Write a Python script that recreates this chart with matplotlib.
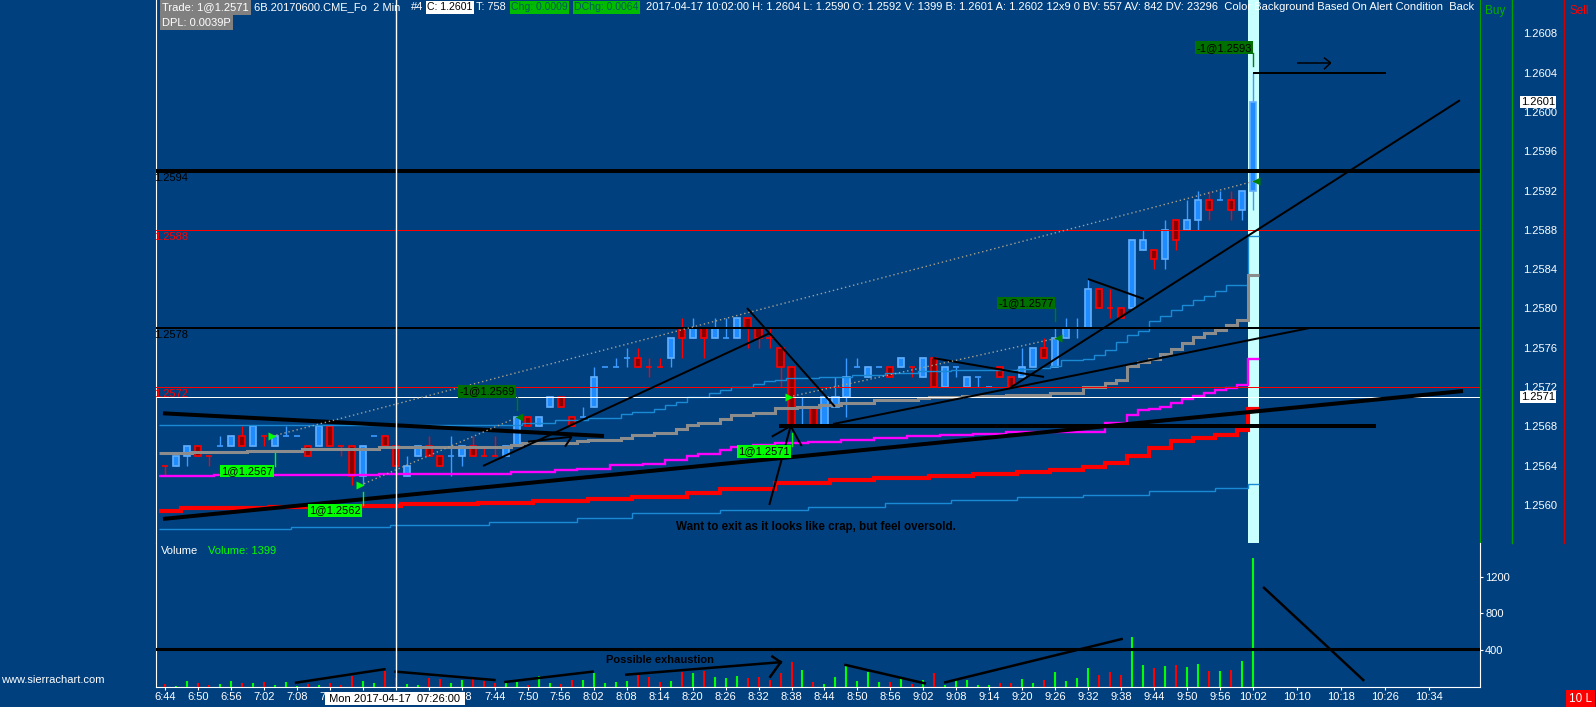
import matplotlib
matplotlib.use("Agg")
import matplotlib.pyplot as plt
from matplotlib.lines import Line2D
from matplotlib.patches import Rectangle

plt.rcParams['font.family'] = ['Liberation Sans', 'DejaVu Sans']
plt.rcParams['font.size'] = 8

W, H, DPI = 1596, 707, 100
NAVY = "#00407f"

# 2 min bars, minutes after midnight, 06:44 .. 10:02
bar_times = list(range(404, 603, 2))

opens = [1.2564, 1.2564, 1.2565, 1.2566, 1.2565, 1.2566, 1.2566, 1.2567, 1.2566, 1.2567,
         1.2566, 1.2567, 1.2567, 1.2566, 1.2566, 1.2568, 1.2566, 1.2566, 1.2563, 1.2567,
         1.2567, 1.2566, 1.2563, 1.2565, 1.2566, 1.2565, 1.2565, 1.2565, 1.2566, 1.2565,
         1.2565, 1.2565, 1.2566, 1.2569, 1.2568, 1.2570, 1.2571, 1.2569, 1.2569, 1.2570,
         1.2574, 1.2574, 1.2575, 1.2575, 1.2574, 1.2574, 1.2575, 1.2578, 1.2577, 1.2578,
         1.2577, 1.2577, 1.2577, 1.2579, 1.2578, 1.2577, 1.2576, 1.2574, 1.2570, 1.2570,
         1.2568, 1.2570, 1.2571, 1.2574, 1.2573, 1.2574, 1.2574, 1.2574, 1.2574, 1.2573,
         1.2575, 1.2572, 1.2574, 1.2572, 1.2573, 1.2572, 1.2574, 1.2573, 1.2573, 1.2574,
         1.2576, 1.2574, 1.2577, 1.2578, 1.2578, 1.2582, 1.2580, 1.2580, 1.2580, 1.2586,
         1.2586, 1.2585, 1.2589, 1.2588, 1.2589, 1.2591, 1.2591, 1.2591, 1.2590, 1.2592]
highs = [1.2564, 1.2565, 1.2566, 1.2566, 1.2565, 1.2567, 1.2567, 1.2568, 1.2568, 1.2567,
         1.2567, 1.2568, 1.2567, 1.2566, 1.2568, 1.2568, 1.2566, 1.2566, 1.2566, 1.2567,
         1.2567, 1.2566, 1.2565, 1.2566, 1.2567, 1.2565, 1.2567, 1.2566, 1.2567, 1.2566,
         1.2567, 1.2566, 1.2569, 1.2569, 1.2569, 1.2571, 1.2571, 1.2569, 1.2570, 1.2574,
         1.2574, 1.2575, 1.2576, 1.2576, 1.2575, 1.2575, 1.2577, 1.2579, 1.2579, 1.2578,
         1.2579, 1.2579, 1.2579, 1.2579, 1.2578, 1.2578, 1.2576, 1.2574, 1.2571, 1.2570,
         1.2571, 1.2573, 1.2575, 1.2575, 1.2574, 1.2574, 1.2574, 1.2575, 1.2574, 1.2575,
         1.2575, 1.2574, 1.2574, 1.2573, 1.2573, 1.2572, 1.2574, 1.2573, 1.2576, 1.2576,
         1.2577, 1.2578, 1.2579, 1.2579, 1.2583, 1.2582, 1.2582, 1.2580, 1.2587, 1.2588,
         1.2586, 1.2589, 1.2589, 1.2591, 1.2592, 1.2592, 1.2592, 1.2592, 1.2592, 1.2604]
lows = [1.2563, 1.2564, 1.2564, 1.2565, 1.2564, 1.2566, 1.2566, 1.2566, 1.2566, 1.2566,
        1.2566, 1.2567, 1.2567, 1.2565, 1.2566, 1.2566, 1.2565, 1.2562, 1.2562, 1.2567,
        1.2566, 1.2564, 1.2563, 1.2565, 1.2565, 1.2564, 1.2563, 1.2564, 1.2565, 1.2565,
        1.2565, 1.2565, 1.2566, 1.2568, 1.2568, 1.2570, 1.2570, 1.2568, 1.2569, 1.2570,
        1.2574, 1.2574, 1.2574, 1.2574, 1.2573, 1.2574, 1.2574, 1.2575, 1.2577, 1.2575,
        1.2577, 1.2577, 1.2577, 1.2576, 1.2576, 1.2576, 1.2572, 1.2568, 1.2568, 1.2568,
        1.2568, 1.2570, 1.2569, 1.2574, 1.2573, 1.2574, 1.2573, 1.2574, 1.2573, 1.2573,
        1.2572, 1.2572, 1.2573, 1.2572, 1.2572, 1.2572, 1.2573, 1.2572, 1.2573, 1.2574,
        1.2575, 1.2574, 1.2577, 1.2577, 1.2578, 1.2580, 1.2579, 1.2579, 1.2580, 1.2586,
        1.2584, 1.2584, 1.2586, 1.2588, 1.2588, 1.2589, 1.2591, 1.2589, 1.2589, 1.2590]
closes = [1.2564, 1.2565, 1.2566, 1.2565, 1.2565, 1.2566, 1.2567, 1.2566, 1.2568, 1.2567,
          1.2567, 1.2567, 1.2567, 1.2565, 1.2568, 1.2566, 1.2566, 1.2563, 1.2566, 1.2567,
          1.2566, 1.2564, 1.2564, 1.2566, 1.2565, 1.2564, 1.2565, 1.2566, 1.2565, 1.2565,
          1.2565, 1.2566, 1.2569, 1.2568, 1.2569, 1.2571, 1.2570, 1.2568, 1.2569, 1.2573,
          1.2574, 1.2574, 1.2575, 1.2574, 1.2574, 1.2574, 1.2577, 1.2577, 1.2578, 1.2577,
          1.2578, 1.2577, 1.2579, 1.2578, 1.2577, 1.2577, 1.2574, 1.2568, 1.2570, 1.2568,
          1.2571, 1.2571, 1.2573, 1.2574, 1.2574, 1.2574, 1.2573, 1.2575, 1.2574, 1.2575,
          1.2572, 1.2574, 1.2574, 1.2573, 1.2573, 1.2572, 1.2573, 1.2572, 1.2574, 1.2576,
          1.2575, 1.2577, 1.2578, 1.2578, 1.2582, 1.2580, 1.2580, 1.2579, 1.2587, 1.2587,
          1.2585, 1.2588, 1.2587, 1.2589, 1.2591, 1.2590, 1.2591, 1.2590, 1.2592, 1.2601]
# u = up bar (blue candle, green volume), d = down bar (red)
bar_dir = ("duudduudud" "uuududdduu" "dduudduudd" "duuduudduu" "uuudddudud"
           "uuudddddud" "uuuuuududu" "duuuuudduu" "duuuuddduu" "duduududuu")

volumes = [33, 14, 65, 40, 22, 33, 65, 40, 40, 54,
           25, 54, 14, 36, 22, 43, 22, 119, 65, 43,
           174, 98, 33, 25, 98, 87, 43, 80, 83, 65,
           43, 54, 58, 22, 123, 47, 33, 80, 80, 156,
           47, 58, 69, 127, 112, 58, 69, 163, 152, 174,
           112, 101, 123, 101, 112, 80, 152, 275, 185, 58,
           33, 112, 228, 65, 167, 54, 54, 87, 36, 76,
           148, 22, 87, 76, 22, 22, 40, 40, 87, 43,
           76, 163, 65, 98, 206, 130, 163, 130, 543, 239,
           210, 228, 239, 221, 250, 174, 174, 185, 282, 1399]

gray_ma = [1.25653, 1.25653, 1.25653, 1.25654, 1.25654, 1.25654, 1.25654, 1.25654, 1.25655, 1.25655,
           1.25655, 1.25655, 1.25655, 1.25657, 1.25657, 1.25657, 1.25657, 1.25657, 1.25657, 1.25657,
           1.25659, 1.25659, 1.25659, 1.25659, 1.25659, 1.25659, 1.25659, 1.25659, 1.25659, 1.25659,
           1.25659, 1.25659, 1.25661, 1.25663, 1.25663, 1.25663, 1.25663, 1.25663, 1.25665, 1.25666,
           1.25666, 1.25666, 1.25668, 1.25671, 1.25671, 1.25673, 1.25673, 1.25677, 1.25681, 1.25683,
           1.25683, 1.25688, 1.25692, 1.25692, 1.25694, 1.25694, 1.25699, 1.25699, 1.25700, 1.25700,
           1.25702, 1.25702, 1.25704, 1.25704, 1.25704, 1.25707, 1.25707, 1.25707, 1.25707, 1.25709,
           1.25710, 1.25710, 1.25710, 1.25711, 1.25711, 1.25711, 1.25711, 1.25712, 1.25712, 1.25712,
           1.25712, 1.25714, 1.25714, 1.25714, 1.25720, 1.25720, 1.25724, 1.25727, 1.25741, 1.25746,
           1.25749, 1.25754, 1.25759, 1.25765, 1.25771, 1.25775, 1.25778, 1.25783, 1.25788, 1.25834]
blue_upper = [1.25681, 1.25681, 1.25681, 1.25681, 1.25681, 1.25681, 1.25681, 1.25681, 1.25681, 1.25681,
              1.25681, 1.25681, 1.25681, 1.25681, 1.25681, 1.25681, 1.25681, 1.25681, 1.25681, 1.25681,
              1.25681, 1.25681, 1.25681, 1.25681, 1.25681, 1.25681, 1.25681, 1.25681, 1.25681, 1.25681,
              1.25681, 1.25681, 1.25681, 1.25683, 1.25683, 1.25683, 1.25686, 1.25686, 1.25686, 1.25689,
              1.25689, 1.25689, 1.25693, 1.25695, 1.25695, 1.25698, 1.25702, 1.25705, 1.25710, 1.25710,
              1.25714, 1.25717, 1.25720, 1.25720, 1.25723, 1.25726, 1.25727, 1.25729, 1.25729, 1.25729,
              1.25730, 1.25730, 1.25730, 1.25732, 1.25732, 1.25732, 1.25734, 1.25734, 1.25734, 1.25736,
              1.25736, 1.25736, 1.25737, 1.25737, 1.25737, 1.25737, 1.25737, 1.25737, 1.25738, 1.25738,
              1.25739, 1.25741, 1.25748, 1.25748, 1.25749, 1.25753, 1.25758, 1.25766, 1.25773, 1.25777,
              1.25787, 1.25792, 1.25798, 1.25804, 1.25809, 1.25813, 1.25818, 1.25824, 1.25824, 1.25874]
magenta_ma = [1.25629, 1.25629, 1.25629, 1.25629, 1.25629, 1.25631, 1.25631, 1.25631, 1.25631, 1.25631,
              1.25631, 1.25631, 1.25631, 1.25631, 1.25631, 1.25631, 1.25631, 1.25631, 1.25631, 1.25631,
              1.25632, 1.25632, 1.25632, 1.25632, 1.25632, 1.25632, 1.25632, 1.25632, 1.25632, 1.25632,
              1.25632, 1.25632, 1.25634, 1.25634, 1.25634, 1.25634, 1.25636, 1.25636, 1.25637, 1.25637,
              1.25637, 1.25641, 1.25641, 1.25641, 1.25642, 1.25642, 1.25646, 1.25646, 1.25650, 1.25652,
              1.25652, 1.25656, 1.25659, 1.25659, 1.25661, 1.25661, 1.25663, 1.25663, 1.25663, 1.25664,
              1.25664, 1.25664, 1.25666, 1.25666, 1.25666, 1.25668, 1.25668, 1.25668, 1.25670, 1.25670,
              1.25670, 1.25671, 1.25671, 1.25671, 1.25672, 1.25672, 1.25672, 1.25674, 1.25674, 1.25674,
              1.25674, 1.25674, 1.25674, 1.25674, 1.25674, 1.25674, 1.25683, 1.25683, 1.25692, 1.25697,
              1.25698, 1.25700, 1.25704, 1.25708, 1.25711, 1.25714, 1.25717, 1.25719, 1.25722, 1.25749]
red_ma = [1.25594, 1.25594, 1.25597, 1.25597, 1.25597, 1.25597, 1.25597, 1.25597, 1.25597, 1.25597,
          1.25598, 1.25598, 1.25598, 1.25598, 1.25598, 1.25598, 1.25598, 1.25598, 1.25599, 1.25599,
          1.25599, 1.25599, 1.25601, 1.25601, 1.25601, 1.25601, 1.25601, 1.25601, 1.25601, 1.25602,
          1.25602, 1.25602, 1.25602, 1.25602, 1.25604, 1.25604, 1.25604, 1.25604, 1.25604, 1.25606,
          1.25606, 1.25606, 1.25606, 1.25608, 1.25608, 1.25608, 1.25608, 1.25608, 1.25612, 1.25612,
          1.25612, 1.25616, 1.25616, 1.25616, 1.25616, 1.25616, 1.25622, 1.25622, 1.25622, 1.25622,
          1.25622, 1.25625, 1.25625, 1.25625, 1.25625, 1.25627, 1.25627, 1.25627, 1.25627, 1.25627,
          1.25630, 1.25630, 1.25630, 1.25630, 1.25632, 1.25632, 1.25632, 1.25632, 1.25634, 1.25634,
          1.25634, 1.25636, 1.25636, 1.25636, 1.25639, 1.25639, 1.25643, 1.25643, 1.25650, 1.25650,
          1.25658, 1.25658, 1.25665, 1.25665, 1.25668, 1.25668, 1.25671, 1.25671, 1.25676, 1.25698]
blue_lower = [1.25576, 1.25576, 1.25576, 1.25576, 1.25576, 1.25576, 1.25576, 1.25576, 1.25576, 1.25576,
              1.25576, 1.25576, 1.25578, 1.25578, 1.25578, 1.25578, 1.25578, 1.25578, 1.25578, 1.25578,
              1.25578, 1.25580, 1.25580, 1.25580, 1.25580, 1.25580, 1.25580, 1.25580, 1.25580, 1.25580,
              1.25583, 1.25583, 1.25583, 1.25583, 1.25583, 1.25583, 1.25583, 1.25583, 1.25587, 1.25587,
              1.25587, 1.25587, 1.25587, 1.25592, 1.25592, 1.25592, 1.25592, 1.25592, 1.25592, 1.25592,
              1.25592, 1.25595, 1.25595, 1.25595, 1.25595, 1.25595, 1.25595, 1.25595, 1.25595, 1.25598,
              1.25598, 1.25598, 1.25598, 1.25598, 1.25598, 1.25598, 1.25602, 1.25602, 1.25602, 1.25602,
              1.25602, 1.25602, 1.25605, 1.25605, 1.25605, 1.25605, 1.25605, 1.25605, 1.25608, 1.25608,
              1.25608, 1.25608, 1.25608, 1.25608, 1.25610, 1.25610, 1.25610, 1.25610, 1.25610, 1.25610,
              1.25614, 1.25614, 1.25614, 1.25614, 1.25614, 1.25614, 1.25617, 1.25617, 1.25617, 1.25621]

# fills: (bar index, quantity, price)
trades = [(10, 1, 1.2567), (18, 1, 1.2562), (32, -1, 1.2569),
          (57, 1, 1.2571), (81, -1, 1.2577), (99, -1, 1.2593)]
trade_links = [(0, 5), (1, 2), (3, 4)]

# drawn horizontal lines: price, colour, width px, left label
hlines = [(1.2594, "black", 4, True), (1.2588, "#ff0000", 1, True),
          (1.2578, "black", 2, True), (1.2572, "#ff0000", 1, True),
          (1.2571, "white", 1, False)]

# freehand tool lines on price pane: t0, p0, t1, p1, width px
price_lines = [(403.67, 1.256933, 483.89, 1.256702, 4),
               (403.67, 1.255858, 640.15, 1.257160, 4),
               (461.88, 1.256397, 514.09, 1.257750, 2),
               (470.08, 1.256644, 478.00, 1.256695, 2),
               (476.80, 1.256593, 478.00, 1.256695, 2),
               (509.90, 1.258005, 525.90, 1.257000, 2),
               (513.96, 1.256000, 517.85, 1.256804, 2),
               (514.40, 1.256695, 517.85, 1.256804, 2),
               (519.85, 1.256600, 517.85, 1.256804, 2),
               (515.72, 1.256807, 624.32, 1.256807, 4),
               (525.55, 1.256824, 612.13, 1.257800, 2),
               (543.74, 1.257496, 563.93, 1.257303, 2),
               (557.74, 1.257191, 639.60, 1.260120, 2),
               (571.93, 1.258300, 582.12, 1.258097, 2),
               (601.95, 1.260400, 626.14, 1.260400, 2),
               (610.00, 1.260500, 616.08, 1.260500, 1.5),
               (614.86, 1.260553, 616.08, 1.260500, 1.5),
               (614.86, 1.260435, 616.08, 1.260500, 1.5)]
# freehand lines on volume pane: t0, v0, t1, v1
vol_lines = [(427.87, 47, 443.94, 193), (445.98, 167, 463.96, 76),
             (465.97, 55, 481.80, 167), (487.95, 134, 516.03, 270),
             (514.52, 331, 516.03, 270), (514.14, 112, 516.03, 270),
             (527.82, 240, 542.23, 40), (545.97, 51, 578.04, 521),
             (603.95, 1078, 622.00, 76)]
vol_level = 412

price_ticks = [1.2560, 1.2564, 1.2568, 1.2572, 1.2576, 1.2580, 1.2584,
               1.2588, 1.2592, 1.2596, 1.2600, 1.2604, 1.2608]
vol_ticks = [400, 800, 1200]
xtick_times = [404, 410, 416, 422, 428, 434, 440, 446, 452, 458, 464, 470,
               476, 482, 488, 494, 500, 506, 512, 518, 524, 530, 536, 542,
               548, 554, 560, 566, 572, 578, 584, 590, 596, 602,
               610, 618, 626, 634]
crosshair_time = 446

fig = plt.figure(figsize=(W / DPI, H / DPI), dpi=DPI, facecolor=NAVY)


def fx(px):
    return px / W


def fy(py):
    return 1 - py / H


PL, PR, PB, VB = 156, 1480, 543, 687
ax = fig.add_axes([fx(PL), fy(PB), (PR - PL) / W, PB / H], facecolor=NAVY)
axv = fig.add_axes([fx(PL), fy(VB), (PR - PL) / W, (VB - PB) / H],
                   facecolor=NAVY, sharex=ax)
YLO, YHI = 1.255613, 1.261140
ax.set_xlim(402.4, 643.24)
ax.set_ylim(YLO, YHI)
axv.set_ylim(0, 1565)
ppx = (YHI - YLO) / PB   # price per pixel

# alert highlight on last bar
ax.axvspan(bar_times[-1] - 1, bar_times[-1] + 1, color="#c8ffff", lw=0, zorder=1)

# candles
bw = 1.1
for t, o, h, l, c, d in zip(bar_times, opens, highs, lows, closes, bar_dir):
    wick = "#3d9bff" if d == "u" else "#ff0000"
    ax.vlines(t, l, h, colors=wick, lw=1, zorder=3)
    if o == c:
        ax.hlines(o, t - bw / 2, t + bw / 2, colors=wick, lw=1.2, zorder=3)
    else:
        fc = "#1e8cff" if d == "u" else "#8e0000"
        ec = "#62b0ff" if d == "u" else "#ff0000"
        ax.add_patch(Rectangle((t - bw / 2, min(o, c)), bw, abs(c - o),
                               fc=fc, ec=ec, lw=1.2, zorder=3))

# studies
edges = [t - 1 for t in bar_times] + [bar_times[-1] + 1]
ax.stairs(blue_lower, edges, baseline=None, color="#1a8ad4", lw=1, zorder=4)
ax.stairs(blue_upper, edges, baseline=None, color="#1a8ad4", lw=1, zorder=4)
ax.stairs(red_ma, edges, baseline=None, color="#ff0000", lw=3.0, zorder=4)
ax.stairs(magenta_ma, edges, baseline=None, color="#ff00ff", lw=1.7, zorder=4)
ax.stairs(gray_ma, edges, baseline=None, color="#8c8c8c", lw=2.2, zorder=4)

# drawn horizontal lines + their labels
for price, col, wpx, show in hlines:
    ax.axhline(price, color=col, lw=wpx * 0.72, zorder=5)
    if show:
        ax.annotate(f"{price:.4f}", xy=(0, price),
                    xycoords=("axes fraction", "data"), xytext=(-2, -2),
                    textcoords="offset pixels", ha="left", va="top",
                    color=col, fontsize=8, zorder=5)

for t0, p0, t1, p1, wpx in price_lines:
    ax.plot([t0, t1], [p0, p1], color="black", lw=wpx * 0.72, zorder=6,
            solid_capstyle="butt")

ax.axvline(crosshair_time, color="white", lw=1, zorder=6)

# trade links, markers and labels
for a, b in trade_links:
    ia, qa, pa = trades[a]
    ib, qb, pb = trades[b]
    ax.plot([bar_times[ia] - 0.45, bar_times[ib] + 0.45], [pa, pb],
            color="#a8a08c", lw=1, ls=(0, (1, 2)), zorder=6)
for i, qty, price in trades:
    t = bar_times[i]
    label = f"{qty}@{price:.4f}"
    if qty > 0:
        ax.plot(t - 0.45, price, marker=">", ms=6, color="#00ff00", mec="none", zorder=8)
        y0, y1 = lows[i] - 7 * ppx, lows[i] - 20 * ppx
        ax.plot([t, t], [y0, y1], color="#00ff00", lw=1, zorder=8)
        ax.text(t - 0.3, y1, label, ha="right", va="top", color="black", fontsize=8,
                bbox=dict(boxstyle="square,pad=0.12", fc="#00ff00", ec="none"), zorder=9)
    else:
        ax.plot(t + 0.45, price, marker="<", ms=6, color="#008000", mec="none", zorder=8)
        y0, y1 = highs[i] + 7 * ppx, highs[i] + 20 * ppx
        ax.plot([t, t], [y0, y1], color="#008000", lw=1, zorder=8)
        ax.text(t - 0.3, y1, label, ha="right", va="bottom", color="black", fontsize=8,
                bbox=dict(boxstyle="square,pad=0.12", fc="#007000", ec="none"), zorder=9)

ax.text(522.45, 1.255776, "Want to exit as it looks like crap, but feel oversold.",
        ha="center", va="center", color="black", fontsize=8.4, fontweight="bold", zorder=7)

# price axis
ax.yaxis.tick_right()
ax.set_yticks(price_ticks)
ax.set_yticklabels([f"{p:.4f}" for p in price_ticks])
ax.tick_params(axis="y", length=0, pad=31, colors="white", labelsize=8)
ax.tick_params(axis="x", bottom=False, labelbottom=False)
for s in ax.spines.values():
    s.set_visible(False)
ax.spines["left"].set_visible(True)
ax.spines["left"].set_color("white")
ax.spines["right"].set_visible(True)
ax.spines["right"].set_color("#00a000")

for price in (closes[-1], 1.2571):
    ax.annotate(f"{price:.4f}", xy=(1, price), xycoords=("axes fraction", "data"),
                xytext=(41, 0), textcoords="offset pixels", ha="left", va="center",
                color="black", fontsize=8, annotation_clip=False, zorder=10,
                bbox=dict(boxstyle="square,pad=0.1", fc="white", ec="none"))

# volume pane
vcol = ["#00ff00" if d == "u" else "#ff0000" for d in bar_dir]
axv.vlines(bar_times, 0, volumes, colors=vcol, lw=1.5, zorder=3)
axv.axhline(vol_level, color="black", lw=2.2, zorder=4)
for t0, v0, t1, v1 in vol_lines:
    axv.plot([t0, t1], [v0, v1], color="black", lw=1.8, zorder=5)
axv.text(494.08, 295, "Possible exhaustion", ha="center", va="center",
         color="black", fontsize=8, fontweight="bold", zorder=6)
axv.axvline(crosshair_time, color="white", lw=1, zorder=6)
axv.yaxis.tick_right()
axv.set_yticks(vol_ticks)
axv.tick_params(axis="y", length=2.2, pad=1.5, colors="white", labelsize=8)
# labels under the crosshair time box are hidden in the source chart
hidden = {440, 446, 452}
axv.set_xticks(xtick_times)
axv.set_xticklabels(["" if t in hidden else f"{t // 60}:{t % 60:02d}" for t in xtick_times])
axv.tick_params(axis="x", length=2.2, pad=1.5, colors="white", labelsize=8)
axv.spines["top"].set_visible(False)
for s in ("left", "bottom", "right"):
    axv.spines[s].set_color("white")

fig.text(fx(161), fy(551), "Volume", color="white", va="center", fontsize=8)
fig.text(fx(208), fy(551), f"Volume: {volumes[-1]}", color="#00ff00", va="center", fontsize=8)

# header
y1, y2 = fy(7.5), fy(22.5)
fig.text(fx(162), y1, "Trade: 1@1.2571", color="white", va="center",
         bbox=dict(boxstyle="square,pad=0.2", fc="#808080", ec="none"))
fig.text(fx(254), y1, "6B.20170600.CME_Fo  2 Min", color="white", va="center")
fig.text(fx(411), y1, "#4", color="white", va="center")
fig.text(fx(427), y1, f"C: {closes[-1]:.4f}", color="black", va="center", fontsize=7.6,
         bbox=dict(boxstyle="square,pad=0.12", fc="white", ec="none"))
fig.text(fx(476), y1, "T: 758", color="white", va="center", fontsize=7.8)
fig.text(fx(511), y1, "Chg: 0.0009", color="#005a5a", va="center", fontsize=7.6,
         bbox=dict(boxstyle="square,pad=0.12", fc="#00bb00", ec="none"))
fig.text(fx(574), y1, "DChg: 0.0064", color="#005a5a", va="center", fontsize=7.6,
         bbox=dict(boxstyle="square,pad=0.12", fc="#00bb00", ec="none"))
fig.text(fx(646), y1,
         f"2017-04-17 10:02:00 H: {highs[-1]:.4f} L: {lows[-1]:.4f} O: {opens[-1]:.4f} "
         f"V: {volumes[-1]} B: 1.2601 A: 1.2602 12x9 0 BV: 557 AV: 842 DV: 23296  "
         "Color Background Based On Alert Condition  Back", color="white", va="center")
fig.text(fx(162), y2, "DPL: 0.0039P", color="white", va="center",
         bbox=dict(boxstyle="square,pad=0.2", fc="#808080", ec="none"))

# right-hand Buy / Sell columns
fig.add_artist(Rectangle((fx(1481), fy(18)), (W - 1481) / W, 18 / H,
                         transform=fig.transFigure, fc=NAVY, ec="none", zorder=4))
fig.add_artist(Line2D([fx(1512), fx(1512)], [fy(0), fy(PB)], color="#00a000", lw=1, zorder=5))
fig.add_artist(Line2D([fx(1564), fx(1564)], [fy(0), fy(PB)], color="#d00000", lw=1, zorder=5))
fig.text(fx(1485), fy(11), "Buy", color="#00b000", va="center", fontsize=8.5, zorder=6)
fig.text(fx(1569), fy(11), "Sell", color="#ff0000", va="center", fontsize=8.5, zorder=6)

# bottom strip
fig.text(fx(395), fy(698.5), " Mon 2017-04-17  07:26:00 ", color="black", ha="center",
         va="center", fontsize=8,
         bbox=dict(boxstyle="square,pad=0.15", fc="white", ec="none"))
fig.text(fx(1569), fy(698.5), "10 L", color="white", va="center", fontsize=8.5,
         bbox=dict(boxstyle="square,pad=0.25", fc="#ff0000", ec="none"))
fig.text(fx(1), fy(680), "www.sierrachart.com", color="white", va="center", fontsize=8)

fig.savefig("out.png", dpi=DPI, facecolor=NAVY)
